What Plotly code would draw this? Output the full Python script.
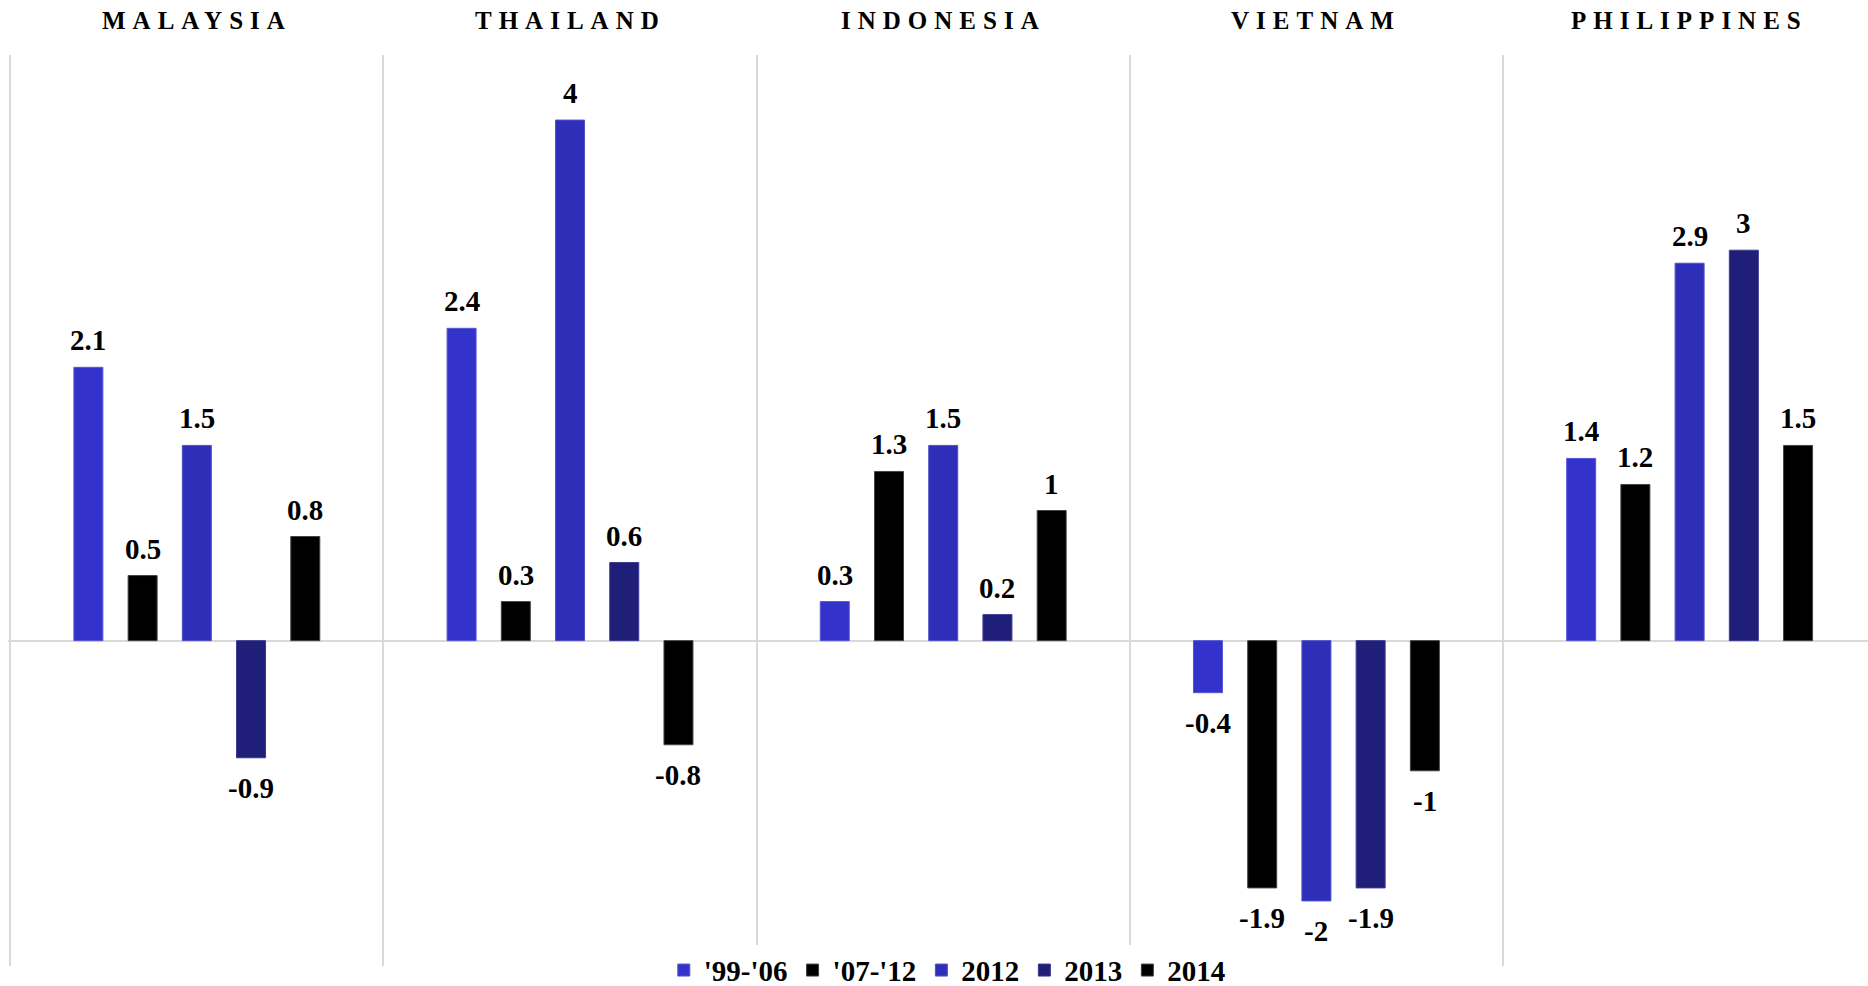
import plotly.graph_objects as go

countries = ["MALAYSIA", "THAILAND", "INDONESIA", "VIETNAM", "PHILIPPINES"]
periods = ["'99-'06", "'07-'12", "2012", "2013", "2014"]

vals_99_06 = [2.1, 2.4, 0.3, -0.4, 1.4]
vals_07_12 = [0.5, 0.3, 1.3, -1.9, 1.2]
vals_2012 = [1.5, 4, 1.5, -2, 2.9]
vals_2013 = [-0.9, 0.6, 0.2, -1.9, 3]
vals_2014 = [0.8, -0.8, 1, -1, 1.5]

series = [vals_99_06, vals_07_12, vals_2012, vals_2013, vals_2014]
colors = ["#3333CC", "#000000", "#2E2EB8", "#1F1F7A", "#000000"]
edges = ["#5555d8", "#444444", "#5050c8", "#3a3a90", "#444444"]

FONT = "Liberation Serif, Times New Roman, serif"
PITCH = 0.1453      # distance between bar centres within a group
BAR_W = 0.0777      # bar width in category units

fig = go.Figure()
annotations = []

for i, (name, vals, col, edge) in enumerate(zip(periods, series, colors, edges)):
    shift = (i - 2) * PITCH
    fig.add_trace(go.Bar(
        x=countries,
        y=vals,
        name=name,
        width=BAR_W,
        offset=shift - BAR_W / 2,
        marker=dict(color=col, line=dict(color=edge, width=1)),
    ))
    # value labels above positive bars, below negative bars
    for j, v in enumerate(vals):
        annotations.append(dict(
            x=j + shift, y=v, xref="x", yref="y",
            text=f"{v:g}", showarrow=False,
            yanchor="bottom" if v >= 0 else "top",
            yshift=9 if v >= 0 else -12,
            font=dict(family=FONT, size=29, color="#000000", weight="bold"),
        ))

# country headings above each panel
for j, c in enumerate(countries):
    annotations.append(dict(
        x=j, y=1, xref="x", yref="paper",
        text=f"<span style='letter-spacing:7px'>{c}</span>",
        showarrow=False, yanchor="middle", yshift=35,
        font=dict(family=FONT, size=25, color="#000000", weight="bold"),
    ))

fig.update_layout(
    width=1868, height=986,
    margin=dict(l=8, r=0, t=55, b=20, autoexpand=False),
    paper_bgcolor="white", plot_bgcolor="white",
    barmode="group",
    showlegend=True,
    legend=dict(
        orientation="h", x=0.505, xanchor="center",
        yref="container", y=0.016, yanchor="middle",
        font=dict(family=FONT, size=29, color="#000000", weight="bold"),
        itemclick=False,
    ),
    annotations=annotations,
    xaxis=dict(
        type="category",
        range=[-0.506, 4.478],
        showticklabels=False,
        ticks="",
        tickson="boundaries",
        showgrid=True, gridcolor="#d9d9d9", gridwidth=2,
        zeroline=False, showline=False,
    ),
    yaxis=dict(
        range=[-2.5, 4.5],
        showticklabels=False, ticks="",
        showgrid=False,
        zeroline=True, zerolinecolor="#d9d9d9", zerolinewidth=2,
        showline=False,
    ),
)

fig.write_html("out.html")
